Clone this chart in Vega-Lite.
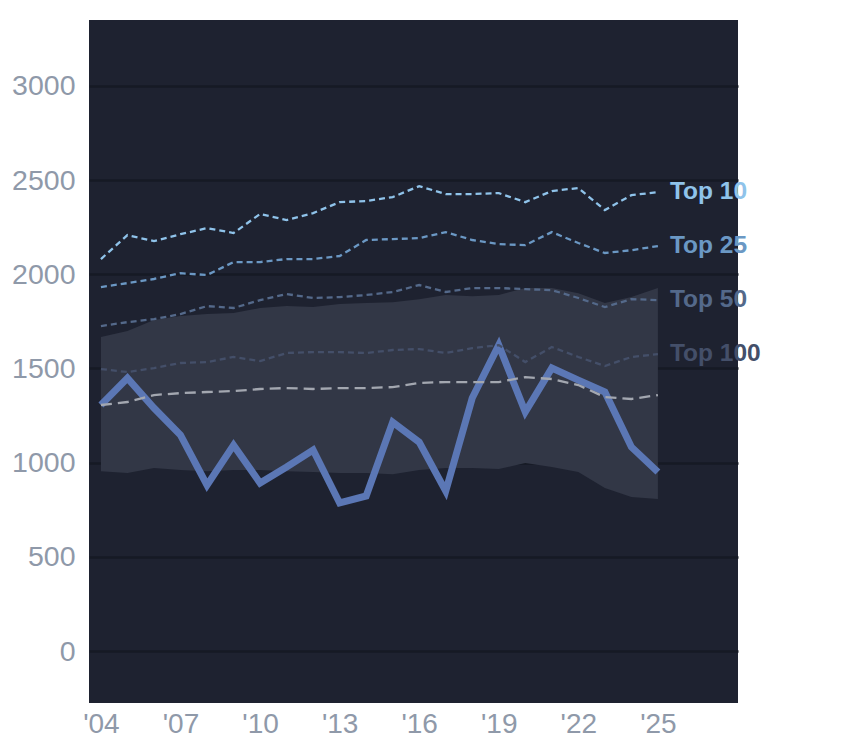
{
  "$schema": "https://vega.github.io/schema/vega-lite/v6.json",
  "width": 649,
  "height": 683,
  "padding": {"top": 20, "left": 5, "right": 5, "bottom": 5},
  "background": "white",
  "config": {
    "view": {"fill": "#1e2230", "stroke": null},
    "font": "Liberation Sans"
  },
  "datasets": {
    "lines": [
      {"year": 2004, "series": "Top 10", "value": 2081}, {"year": 2005, "series": "Top 10", "value": 2208},
      {"year": 2006, "series": "Top 10", "value": 2176}, {"year": 2007, "series": "Top 10", "value": 2213},
      {"year": 2008, "series": "Top 10", "value": 2245}, {"year": 2009, "series": "Top 10", "value": 2219},
      {"year": 2010, "series": "Top 10", "value": 2320}, {"year": 2011, "series": "Top 10", "value": 2288},
      {"year": 2012, "series": "Top 10", "value": 2325}, {"year": 2013, "series": "Top 10", "value": 2383},
      {"year": 2014, "series": "Top 10", "value": 2389}, {"year": 2015, "series": "Top 10", "value": 2410},
      {"year": 2016, "series": "Top 10", "value": 2468}, {"year": 2017, "series": "Top 10", "value": 2426},
      {"year": 2018, "series": "Top 10", "value": 2426}, {"year": 2019, "series": "Top 10", "value": 2431},
      {"year": 2020, "series": "Top 10", "value": 2383}, {"year": 2021, "series": "Top 10", "value": 2442},
      {"year": 2022, "series": "Top 10", "value": 2458}, {"year": 2023, "series": "Top 10", "value": 2341},
      {"year": 2024, "series": "Top 10", "value": 2420}, {"year": 2025, "series": "Top 10", "value": 2436},

      {"year": 2004, "series": "Top 25", "value": 1932}, {"year": 2005, "series": "Top 25", "value": 1953},
      {"year": 2006, "series": "Top 25", "value": 1975}, {"year": 2007, "series": "Top 25", "value": 2006},
      {"year": 2008, "series": "Top 25", "value": 1996}, {"year": 2009, "series": "Top 25", "value": 2065},
      {"year": 2010, "series": "Top 25", "value": 2065}, {"year": 2011, "series": "Top 25", "value": 2081},
      {"year": 2012, "series": "Top 25", "value": 2081}, {"year": 2013, "series": "Top 25", "value": 2097},
      {"year": 2014, "series": "Top 25", "value": 2182}, {"year": 2015, "series": "Top 25", "value": 2187},
      {"year": 2016, "series": "Top 25", "value": 2192}, {"year": 2017, "series": "Top 25", "value": 2224},
      {"year": 2018, "series": "Top 25", "value": 2182}, {"year": 2019, "series": "Top 25", "value": 2160},
      {"year": 2020, "series": "Top 25", "value": 2155}, {"year": 2021, "series": "Top 25", "value": 2224},
      {"year": 2022, "series": "Top 25", "value": 2166}, {"year": 2023, "series": "Top 25", "value": 2113},
      {"year": 2024, "series": "Top 25", "value": 2128}, {"year": 2025, "series": "Top 25", "value": 2150},

      {"year": 2004, "series": "Top 50", "value": 1725}, {"year": 2005, "series": "Top 50", "value": 1746},
      {"year": 2006, "series": "Top 50", "value": 1762}, {"year": 2007, "series": "Top 50", "value": 1789},
      {"year": 2008, "series": "Top 50", "value": 1831}, {"year": 2009, "series": "Top 50", "value": 1821},
      {"year": 2010, "series": "Top 50", "value": 1863}, {"year": 2011, "series": "Top 50", "value": 1895},
      {"year": 2012, "series": "Top 50", "value": 1874}, {"year": 2013, "series": "Top 50", "value": 1879},
      {"year": 2014, "series": "Top 50", "value": 1890}, {"year": 2015, "series": "Top 50", "value": 1906},
      {"year": 2016, "series": "Top 50", "value": 1943}, {"year": 2017, "series": "Top 50", "value": 1906},
      {"year": 2018, "series": "Top 50", "value": 1927}, {"year": 2019, "series": "Top 50", "value": 1927},
      {"year": 2020, "series": "Top 50", "value": 1921}, {"year": 2021, "series": "Top 50", "value": 1916},
      {"year": 2022, "series": "Top 50", "value": 1874}, {"year": 2023, "series": "Top 50", "value": 1826},
      {"year": 2024, "series": "Top 50", "value": 1868}, {"year": 2025, "series": "Top 50", "value": 1863},

      {"year": 2004, "series": "Top 100", "value": 1497}, {"year": 2005, "series": "Top 100", "value": 1481},
      {"year": 2006, "series": "Top 100", "value": 1502}, {"year": 2007, "series": "Top 100", "value": 1529},
      {"year": 2008, "series": "Top 100", "value": 1534}, {"year": 2009, "series": "Top 100", "value": 1561},
      {"year": 2010, "series": "Top 100", "value": 1539}, {"year": 2011, "series": "Top 100", "value": 1582},
      {"year": 2012, "series": "Top 100", "value": 1587}, {"year": 2013, "series": "Top 100", "value": 1587},
      {"year": 2014, "series": "Top 100", "value": 1582}, {"year": 2015, "series": "Top 100", "value": 1598},
      {"year": 2016, "series": "Top 100", "value": 1603}, {"year": 2017, "series": "Top 100", "value": 1582},
      {"year": 2018, "series": "Top 100", "value": 1608}, {"year": 2019, "series": "Top 100", "value": 1624},
      {"year": 2020, "series": "Top 100", "value": 1534}, {"year": 2021, "series": "Top 100", "value": 1614},
      {"year": 2022, "series": "Top 100", "value": 1561}, {"year": 2023, "series": "Top 100", "value": 1513},
      {"year": 2024, "series": "Top 100", "value": 1561}, {"year": 2025, "series": "Top 100", "value": 1576},

      {"year": 2004, "series": "Median", "value": 1306}, {"year": 2005, "series": "Median", "value": 1322},
      {"year": 2006, "series": "Median", "value": 1359}, {"year": 2007, "series": "Median", "value": 1369},
      {"year": 2008, "series": "Median", "value": 1375}, {"year": 2009, "series": "Median", "value": 1380},
      {"year": 2010, "series": "Median", "value": 1391}, {"year": 2011, "series": "Median", "value": 1396},
      {"year": 2012, "series": "Median", "value": 1391}, {"year": 2013, "series": "Median", "value": 1396},
      {"year": 2014, "series": "Median", "value": 1396}, {"year": 2015, "series": "Median", "value": 1401},
      {"year": 2016, "series": "Median", "value": 1423}, {"year": 2017, "series": "Median", "value": 1428},
      {"year": 2018, "series": "Median", "value": 1428}, {"year": 2019, "series": "Median", "value": 1428},
      {"year": 2020, "series": "Median", "value": 1454}, {"year": 2021, "series": "Median", "value": 1444},
      {"year": 2022, "series": "Median", "value": 1412}, {"year": 2023, "series": "Median", "value": 1348},
      {"year": 2024, "series": "Median", "value": 1338}, {"year": 2025, "series": "Median", "value": 1359}
    ],
    "main": [
      {"year": 2004, "value": 1306}, {"year": 2005, "value": 1449}, {"year": 2006, "value": 1290},
      {"year": 2007, "value": 1146}, {"year": 2008, "value": 881}, {"year": 2009, "value": 1093},
      {"year": 2010, "value": 892}, {"year": 2011, "value": 977}, {"year": 2012, "value": 1067},
      {"year": 2013, "value": 786}, {"year": 2014, "value": 823}, {"year": 2015, "value": 1215},
      {"year": 2016, "value": 1109}, {"year": 2017, "value": 849}, {"year": 2018, "value": 1343},
      {"year": 2019, "value": 1624}, {"year": 2020, "value": 1269}, {"year": 2021, "value": 1502},
      {"year": 2022, "value": 1438}, {"year": 2023, "value": 1375}, {"year": 2024, "value": 1083},
      {"year": 2025, "value": 950}
    ],
    "band": [
      {"year": 2004, "lo": 955, "hi": 1667}, {"year": 2005, "lo": 945, "hi": 1699},
      {"year": 2006, "lo": 971, "hi": 1757}, {"year": 2007, "lo": 961, "hi": 1778},
      {"year": 2008, "lo": 955, "hi": 1789}, {"year": 2009, "lo": 961, "hi": 1794},
      {"year": 2010, "lo": 961, "hi": 1821}, {"year": 2011, "lo": 955, "hi": 1831},
      {"year": 2012, "lo": 950, "hi": 1826}, {"year": 2013, "lo": 945, "hi": 1842},
      {"year": 2014, "lo": 945, "hi": 1847}, {"year": 2015, "lo": 939, "hi": 1852},
      {"year": 2016, "lo": 961, "hi": 1868}, {"year": 2017, "lo": 971, "hi": 1890},
      {"year": 2018, "lo": 971, "hi": 1884}, {"year": 2019, "lo": 966, "hi": 1890},
      {"year": 2020, "lo": 998, "hi": 1927}, {"year": 2021, "lo": 977, "hi": 1927},
      {"year": 2022, "lo": 950, "hi": 1900}, {"year": 2023, "lo": 865, "hi": 1847},
      {"year": 2024, "lo": 817, "hi": 1879}, {"year": 2025, "lo": 807, "hi": 1927}
    ]
  },
  "encoding": {
    "x": {
      "field": "year", "type": "quantitative",
      "scale": {"domain": [2003.55, 2028.02], "nice": false, "zero": false},
      "axis": {
        "values": [2004, 2007, 2010, 2013, 2016, 2019, 2022, 2025],
        "labelExpr": "\"'\" + slice(toString(datum.value), 2)",
        "grid": false, "ticks": false, "domain": false,
        "labelFontSize": 28, "labelColor": "#8f99a9", "labelPadding": 7,
        "title": null
      }
    },
    "y": {
      "type": "quantitative",
      "scale": {"domain": [-276, 3350], "nice": false, "zero": false},
      "axis": {
        "values": [0, 500, 1000, 1500, 2000, 2500, 3000],
        "format": "d",
        "grid": true, "gridColor": "#161a24", "gridWidth": 2.5,
        "ticks": false, "domain": false,
        "labelFontSize": 28.5, "labelColor": "#8f99a9", "labelPadding": 14,
        "minExtent": 84, "maxExtent": 84,
        "title": null
      }
    }
  },
  "layer": [
    {
      "data": {"name": "band"},
      "mark": {"type": "area", "color": "#323746", "opacity": 1},
      "encoding": {
        "y": {"field": "lo", "type": "quantitative"},
        "y2": {"field": "hi"}
      }
    },
    {
      "data": {"name": "main"},
      "mark": {"type": "line", "color": "#5b77b5", "strokeWidth": 7, "strokeJoin": "miter"},
      "encoding": {
        "y": {"field": "value", "type": "quantitative"}
      }
    },
    {
      "data": {"name": "lines"},
      "mark": {"type": "line"},
      "encoding": {
        "y": {"field": "value", "type": "quantitative"},
        "color": {
          "field": "series", "type": "nominal", "legend": null,
          "scale": {
            "domain": ["Top 10", "Top 25", "Top 50", "Top 100", "Median"],
            "range": ["#8fc3ea", "#6b98c4", "#54698a", "#444f69", "#a3a7b0"]
          }
        },
        "strokeDash": {
          "field": "series", "type": "nominal", "legend": null,
          "scale": {
            "domain": ["Top 10", "Top 25", "Top 50", "Top 100", "Median"],
            "range": [[6, 4], [6, 4], [6, 4], [6, 4], [11, 6]]
          }
        },
        "strokeWidth": {
          "field": "series", "type": "nominal", "legend": null,
          "scale": {
            "domain": ["Top 10", "Top 25", "Top 50", "Top 100", "Median"],
            "range": [2.3, 2.3, 2.3, 2.3, 3]
          }
        }
      }
    },
    {
      "data": {"name": "lines"},
      "transform": [{"filter": "datum.year === 2025 && datum.series !== 'Median'"}],
      "mark": {"type": "text", "align": "left", "baseline": "middle", "dx": 12, "fontSize": 24.5, "fontWeight": "bold"},
      "encoding": {
        "y": {"field": "value", "type": "quantitative"},
        "text": {"field": "series"},
        "color": {
          "field": "series", "type": "nominal", "legend": null,
          "scale": {
            "domain": ["Top 10", "Top 25", "Top 50", "Top 100"],
            "range": ["#a4d4fc", "#72a5d2", "#5a7194", "#434e68"]
          }
        }
      }
    }
  ]
}
